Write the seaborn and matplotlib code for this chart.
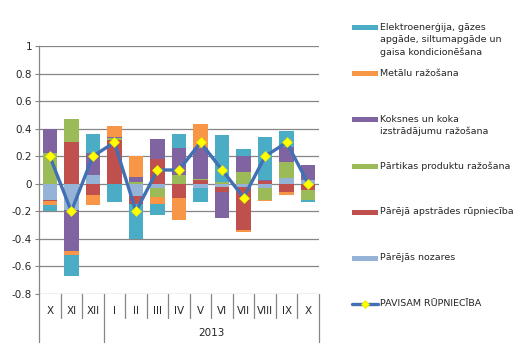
import matplotlib
matplotlib.use("Agg")
import matplotlib.pyplot as plt
import seaborn as sns
import numpy as np
import pandas as pd
from matplotlib.patches import Rectangle
from matplotlib.lines import Line2D
import matplotlib.transforms as mtransforms

# ---- data ----
categories = ["X", "XI", "XII", "I", "II", "III", "IV", "V", "VI", "VII", "VIII", "IX", "X"]
year_label = "2013"

parejas_nozares = [-0.115, -0.19, 0.065, 0.0, -0.087, -0.03, 0.0, -0.03, -0.025, -0.025, -0.03, 0.045, 0.024]
pareja_apstrades = [-0.01, 0.304, -0.08, 0.32, -0.058, 0.18, -0.10, 0.025, -0.033, -0.313, 0.02, -0.063, -0.043]
partikas = [0.22, 0.167, 0.0, 0.01, 0.015, -0.067, 0.065, 0.012, 0.015, 0.082, -0.086, 0.11, -0.073]
koksnes = [0.18, -0.30, 0.157, 0.01, 0.035, 0.146, 0.195, 0.225, -0.192, 0.116, 0.01, 0.115, 0.114]
metalu = [-0.03, -0.03, -0.077, 0.08, 0.155, -0.048, -0.166, 0.17, 0.0, -0.015, -0.012, -0.017, 0.0]
elektro = [-0.04, -0.15, 0.14, -0.135, -0.255, -0.08, 0.10, -0.105, 0.34, 0.056, 0.306, 0.114, -0.019]
pavisam = [0.2, -0.2, 0.2, 0.3, -0.2, 0.1, 0.1, 0.3, 0.1, -0.1, 0.2, 0.3, 0.0]

series_names = [
    "Pārējās nozares",
    "Pārējā apstrādes rūpniecība",
    "Pārtikas produktu ražošana",
    "Koksnes un koka\nizstrādājumu ražošana",
    "Metālu ražošana",
    "Elektroenerģija, gāzes\napgāde, siltumapgāde un\ngaisa kondicionēšana",
]
series_values = [parejas_nozares, pareja_apstrades, partikas, koksnes, metalu, elektro]
series_colors = ["#95B3D7", "#C0504D", "#9BBB59", "#8064A2", "#F79646", "#4BACC6"]
total_name = "PAVISAM RŪPNIECĪBA"
line_color = "#4270B5"

sns.set_style("white")
plt.rcParams["font.family"] = ["DejaVu Sans"]

W, H = 524, 349
fig = plt.figure(figsize=(W / 100, H / 100), dpi=100)
ax = fig.add_axes([39 / W, 1 - 294 / H, (319 - 39) / W, (294 - 46) / H])

x = np.arange(len(categories))
pos_bottom = np.zeros(len(categories))
neg_bottom = np.zeros(len(categories))
for vals, col in zip(series_values, series_colors):
    v = np.array(vals, dtype=float)
    bottom = np.where(v >= 0, pos_bottom, neg_bottom)
    ax.bar(x, v, bottom=bottom, width=0.67, color=col, linewidth=0, zorder=2)
    pos_bottom = pos_bottom + np.where(v >= 0, v, 0)
    neg_bottom = neg_bottom + np.where(v < 0, v, 0)

df_total = pd.DataFrame({"x": x, "y": pavisam})
sns.lineplot(data=df_total, x="x", y="y", ax=ax, color=line_color, linewidth=2.4,
             marker="D", markersize=5.5, markerfacecolor="#FFFF00",
             markeredgecolor="#E8E800", markeredgewidth=0.5, zorder=4)

ax.set_xlim(-0.5, len(categories) - 0.5)
ax.set_ylim(-0.8, 1.0)
yt = np.round(np.arange(-0.8, 1.01, 0.2), 1)
ax.set_yticks(yt)
ax.set_yticklabels(["0" if abs(t) < 1e-9 else ("1" if t == 1 else f"{t:g}") for t in yt], fontsize=7.5)
ax.yaxis.grid(True, color="#868686", linewidth=0.9, zorder=0)
ax.set_axisbelow(True)
ax.tick_params(axis="y", length=3, color="#868686", pad=2, left=True)
ax.set_xticks([])
ax.set_xlabel("")
ax.set_ylabel("")
for s in ["top", "right", "bottom"]:
    ax.spines[s].set_visible(False)
ax.spines["left"].set_color("#868686")
ax.spines["left"].set_linewidth(0.9)

# category axis (hierarchical)
trans = mtransforms.blended_transform_factory(ax.transData, fig.transFigure)
def fy(py):
    return 1 - py / H
for i, c in enumerate(categories):
    ax.text(i, fy(311), c, transform=trans, ha="center", va="center", fontsize=7.5)
for b in range(len(categories) + 1):
    xb = b - 0.5
    long_line = b in (0, 3, len(categories))
    ax.plot([xb, xb], [fy(294), fy(342 if long_line else 318)], transform=trans,
            color="#868686", linewidth=0.9, clip_on=False)
ax.text((3 + len(categories) - 1) / 2, fy(333), year_label, transform=trans,
        ha="center", va="center", fontsize=7.5)

# legend (drawn manually to mimic layout)
leg_fs = 6.8
leg_entries = [
    (series_names[5], series_colors[5], 27, 40),
    (series_names[4], series_colors[4], 73, 73),
    (series_names[3], series_colors[3], 119, 125.5),
    (series_names[2], series_colors[2], 166, 166),
    (series_names[1], series_colors[1], 212, 212),
    (series_names[0], series_colors[0], 258, 258),
]
for name, col, py_patch, py_text in leg_entries:
    fig.add_artist(Rectangle((352 / W, fy(py_patch + 2.5)), 26 / W, 5 / H,
                             transform=fig.transFigure, color=col, linewidth=0))
    fig.text(380 / W, fy(py_text), name, ha="left", va="center", fontsize=leg_fs,
             linespacing=1.4)
fig.add_artist(Line2D([352 / W, 378 / W], [fy(304), fy(304)], transform=fig.transFigure,
                      color=line_color, linewidth=2.4))
fig.add_artist(Line2D([365 / W], [fy(304)], transform=fig.transFigure, marker="D",
                      markersize=4, markerfacecolor="#FFFF00", markeredgecolor="#E8E800",
                      markeredgewidth=0.5, linestyle="none"))
fig.text(380 / W, fy(304), total_name, ha="left", va="center", fontsize=leg_fs)

fig.savefig("out.png", dpi=100)
